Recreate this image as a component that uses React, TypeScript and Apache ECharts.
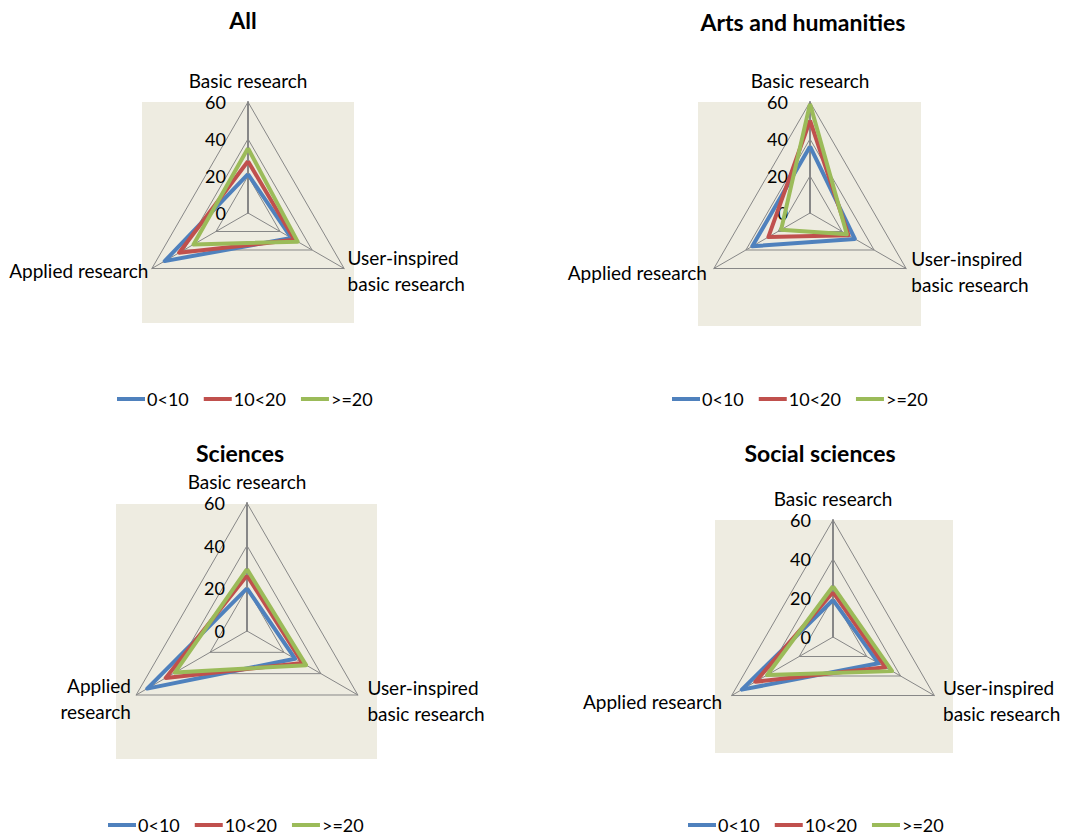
import React, { useEffect, useRef } from 'react';
import * as echarts from 'echarts';

// ---------- data ----------
const panelTitles = ['All', 'Arts and humanities', 'Sciences', 'Social sciences'];
const indicatorNames = ['Basic research', 'Applied research', 'User-inspired\nbasic research'];
const indicatorNamesNarrow = ['Basic research', 'Applied\nresearch', 'User-inspired\nbasic research'];
const groupNames = ['0<10', '10<20', '>=20'];
const tickValues = [0, 20, 40, 60];

// values per group, in order [Basic, Applied, User-inspired]
const allValues = [
  [21, 52, 27],
  [28, 43, 29],
  [35, 34, 31],
];
const artsValues = [
  [36, 36, 28],
  [50, 26, 24],
  [59, 18, 23],
];
const sciencesValues = [
  [20, 54, 26],
  [26, 44, 30],
  [29, 39, 32],
];
const socialValues = [
  [19, 54, 27],
  [23, 46, 31],
  [26, 39, 35],
];
const panelValues = [allValues, artsValues, sciencesValues, socialValues];

// ---------- styling / layout ----------
const groupColors = ['#4F81BD', '#C0504D', '#9BBB59'];
const FONT = 'Lato, "Liberation Sans", sans-serif';
const layout = [
  { cx: 248, cy: 213, r: 111, bg: [142, 102, 212, 221], title: [243, 20], legend: [117, 390], names: indicatorNames, gaps: [4, 4, 4] },
  { cx: 810, cy: 213, r: 111, bg: [698, 102, 223, 224], title: [803, 22], legend: [672, 390], names: indicatorNames, gaps: [4, 8, 6] },
  { cx: 247, cy: 631, r: 128, bg: [116, 504, 261, 255], title: [240, 453], legend: [108, 816], names: indicatorNamesNarrow, gaps: [4, 6, 11] },
  { cx: 833, cy: 637, r: 117, bg: [715, 520, 238, 233], title: [820, 453], legend: [688, 816], names: indicatorNames, gaps: [4, 11, 10] },
];

export default function App() {
  const ref = useRef<HTMLDivElement>(null);

  useEffect(() => {
    if (!ref.current) return;
    const chart = echarts.init(ref.current, undefined, { renderer: 'svg' });
    const tickMax = tickValues[tickValues.length - 1];
    const tickMin = tickValues[0];

    const radar = layout.map((l) => ({
      center: [l.cx, l.cy],
      radius: l.r,
      startAngle: 90,
      shape: 'polygon',
      splitNumber: tickValues.length - 1,
      indicator: l.names.map((n, i) =>
        i === 0
          ? {
              name: n,
              min: tickMin,
              max: tickMax,
              nameGap: l.gaps[i],
              axisLabel: { show: true },
              axisLine: { lineStyle: { width: 2 } },
            }
          : { name: n, min: tickMin, max: tickMax, nameGap: l.gaps[i] }
      ),
      axisName: { color: '#000', fontSize: 19, fontFamily: FONT, lineHeight: 26 },
      nameGap: 4,
      axisLine: { show: true, lineStyle: { color: '#878787', width: 1 } },
      splitLine: { show: true, lineStyle: { color: '#878787', width: 1 } },
      splitArea: { show: false },
      axisTick: { show: false },
      axisLabel: { show: false, color: '#000', fontSize: 18, fontFamily: FONT, margin: 22 },
    }));

    const series = layout.map((l, i) => ({
      type: 'radar',
      radarIndex: i,
      symbol: 'none',
      data: groupNames.map((g, j) => ({
        name: g,
        value: panelValues[i][j],
        lineStyle: { color: groupColors[j], width: 4 },
        itemStyle: { color: groupColors[j] },
      })),
    }));

    const legend = layout.map((l) => ({
      data: groupNames,
      left: l.legend[0],
      top: l.legend[1],
      padding: 0,
      orient: 'horizontal',
      icon: 'rect',
      itemWidth: 28,
      itemHeight: 4,
      itemGap: 15,
      selectedMode: false,
      textStyle: { color: '#000', fontSize: 18, fontFamily: FONT, padding: [0, 0, 0, -3] },
    }));

    const graphic: any[] = [];
    layout.forEach((l) => {
      graphic.push({
        type: 'rect',
        z: -10,
        shape: { x: l.bg[0], y: l.bg[1], width: l.bg[2], height: l.bg[3] },
        style: { fill: '#EEECE1' },
        silent: true,
      });
    });
    layout.forEach((l, i) => {
      graphic.push({
        type: 'text',
        x: l.title[0],
        y: l.title[1],
        style: {
          text: panelTitles[i],
          fill: '#000',
          font: `bold 23px ${FONT}`,
          align: 'center',
          verticalAlign: 'middle',
        },
      });
    });

    chart.setOption({
      animation: false,
      backgroundColor: '#fff',
      textStyle: { fontFamily: FONT },
      radar,
      series,
      legend,
      graphic,
    });

    return () => chart.dispose();
  }, []);

  return (
    <div
      ref={ref}
      style={{ position: 'absolute', left: 0, top: 0, width: 1065, height: 836 }}
    />
  );
}
